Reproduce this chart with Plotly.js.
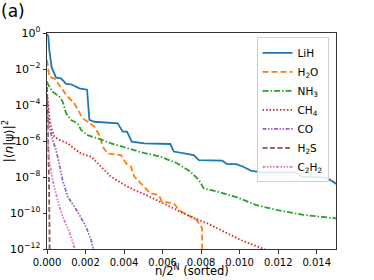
<!DOCTYPE html>
<html>
<head>
<meta charset="utf-8">
<script src="https://cdn.plot.ly/plotly-3.0.1.min.js"></script>
<style>html,body{margin:0;padding:0;background:#fff;}#chart{width:374px;height:280px;}</style>
</head>
<body>
<div id="chart"></div>
<script>
// Series data (x = n/2^N sorted, y = |<n|psi>|^2)
const lihX = [0, 0.00007, 0.00012, 0.00024, 0.00047, 0.00073, 0.00099, 0.00125, 0.00168, 0.00194, 0.00208, 0.0022, 0.00246, 0.00367, 0.00393, 0.00415, 0.0044, 0.00505, 0.0064, 0.00658, 0.00727, 0.00762, 0.00788, 0.0091, 0.00935, 0.00983, 0.01018, 0.01061, 0.01122, 0.01295, 0.01321, 0.01451, 0.01503];
const lihY = [8.9e-1, 6.3e-1, 1.15e-1, 1.26e-2, 3.3e-3, 3.0e-3, 1.48e-3, 1.41e-3, 8.5e-4, 7.4e-4, 7.1e-4, 1.48e-5, 1.17e-5, 9.5e-6, 3.3e-6, 3.3e-6, 9.1e-7, 7.4e-7, 6.8e-7, 2.6e-7, 1.9e-7, 1.66e-7, 8.7e-8, 8.1e-8, 5.2e-8, 5.2e-8, 3.7e-8, 2.2e-8, 1.8e-8, 1.8e-8, 1.05e-8, 9.1e-9, 4.1e-9];

const h2oX = [0, 0.00005, 0.00012, 0.00038, 0.00073, 0.00107, 0.00142, 0.00168, 0.00185, 0.00211, 0.00246, 0.00272, 0.0028, 0.00289, 0.00315, 0.00384, 0.0041, 0.00436, 0.00453, 0.00488, 0.00537, 0.0058, 0.00597, 0.00658, 0.00684, 0.00727, 0.0077, 0.00796, 0.00805, 0.00806];
const h2oY = [3.2e-2, 8.7e-3, 3.7e-3, 3.0e-3, 8.5e-4, 2.9e-4, 1.23e-4, 4.3e-5, 1.82e-5, 1.17e-5, 6.3e-6, 2.1e-6, 1.15e-6, 4.9e-7, 2.0e-7, 1.66e-7, 5.8e-8, 3.7e-8, 1.05e-8, 4.5e-9, 1.23e-9, 1.0e-9, 4.3e-10, 3.5e-10, 1.48e-10, 7.8e-11, 5.0e-11, 2.1e-11, 1.41e-11, 1e-13];

const nh3X = [0, 0.00007, 0.00029, 0.00064, 0.00081, 0.00099, 0.00125, 0.00159, 0.00177, 0.00211, 0.00263, 0.00332, 0.00402, 0.00485, 0.00589, 0.00675, 0.00744, 0.00788, 0.00814, 0.00883, 0.00983, 0.01087, 0.01191, 0.0133, 0.01503];
const nh3Y = [2.0e-3, 1.29e-3, 5.5e-4, 2.9e-4, 1.55e-4, 3.5e-5, 1.48e-5, 9.5e-6, 4.1e-6, 2.1e-6, 1.41e-6, 7.4e-7, 4.5e-7, 2.4e-7, 1.35e-7, 5.8e-8, 2.0e-8, 6.8e-9, 2.3e-9, 1.55e-9, 7.6e-10, 2.75e-10, 1.48e-10, 7.9e-11, 5.0e-11];

const ch4X = [0, 0.00005, 0.00012, 0.00021, 0.00038, 0.00064, 0.00107, 0.0015, 0.00177, 0.00229, 0.0028, 0.00332, 0.00402, 0.00453, 0.00505, 0.00571, 0.00658, 0.00744, 0.00831, 0.00917, 0.01004, 0.01125, 0.0116];
const ch4Y = [6.3e-4, 1.26e-4, 2.2e-5, 6.3e-6, 1.74e-6, 1.15e-6, 7.4e-7, 3.2e-7, 2.0e-7, 1.35e-7, 3.7e-8, 1.05e-8, 3.6e-9, 1.9e-9, 1.12e-9, 5.2e-10, 1.8e-10, 6.3e-11, 2.7e-11, 9.1e-12, 3.2e-12, 1.0e-12, 7e-13];

const coX = [0, 0.00005, 0.00012, 0.00029, 0.00047, 0.00055, 0.00081, 0.00107, 0.00159, 0.00202, 0.00229, 0.00245];
const coY = [2.5e-4, 3.5e-5, 6.3e-6, 1.15e-6, 3.2e-7, 1.35e-7, 6.8e-9, 8.1e-10, 1.17e-10, 1.74e-11, 3.2e-12, 6.3e-13];

const h2sX = [0, 0.00005, 0.0001, 0.00013, 0.00014];
const h2sY = [1e-3, 1e-5, 1e-8, 1e-11, 1e-13];

const c2h2X = [0, 0.00003, 0.00012, 0.00029, 0.00055, 0.00081, 0.00116, 0.00148];
const c2h2Y = [3.2e-5, 1.15e-6, 8.7e-8, 6.8e-9, 5.2e-10, 6.3e-11, 9.1e-12, 7.9e-13];

const names = ['LiH', 'H<sub>2</sub>O', 'NH<sub>3</sub>', 'CH<sub>4</sub>', 'CO', 'H<sub>2</sub>S', 'C<sub>2</sub>H<sub>2</sub>'];
const xTickVals = [0, 0.002, 0.004, 0.006, 0.008, 0.010, 0.012, 0.014];
const xTickText = ['0.000', '0.002', '0.004', '0.006', '0.008', '0.010', '0.012', '0.014'];
const yTickVals = [1, 1e-2, 1e-4, 1e-6, 1e-8, 1e-10, 1e-12];
const yTickText = ['10<sup>0</sup>', '10<sup>−2</sup>', '10<sup>−4</sup>', '10<sup>−6</sup>', '10<sup>−8</sup>', '10<sup>−10</sup>', '10<sup>−12</sup>'];

const colors = ['#1f77b4', '#ff7f0e', '#2ca02c', '#d62728', '#9467bd', '#8c564b', '#e377c2'];
const dashes = ['solid', '6px,3px', '6px,2px,1.5px,2px', '1.5px,2px', '4px,1.5px,1.5px,1.5px,1.5px,1.5px', '5px,2.5px', '3px,1.5px,1.5px,1.5px,1.5px,1.5px,1.5px,1.5px'];
const xs = [lihX, h2oX, nh3X, ch4X, coX, h2sX, c2h2X];
const ys = [lihY, h2oY, nh3Y, ch4Y, coY, h2sY, c2h2Y];

const traces = names.map((n, i) => ({
  x: xs[i], y: ys[i], name: n, mode: 'lines', type: 'scatter',
  line: {color: colors[i], width: 1.8, dash: dashes[i]}
}));

const layout = {
  width: 374, height: 280,
  margin: {l: 47, r: 38, t: 33, b: 31, pad: 0},
  paper_bgcolor: '#fff', plot_bgcolor: '#fff',
  font: {family: 'DejaVu Sans, sans-serif', size: 11, color: '#000'},
  showlegend: true,
  xaxis: {
    range: [0, 0.015], tickvals: xTickVals, ticktext: xTickText,
    showgrid: false, zeroline: false, showline: true, mirror: true,
    linecolor: '#333', linewidth: 1, ticks: 'outside', ticklen: 3.5, tickcolor: '#333',
    tickfont: {size: 10},
    automargin: false
  },
  yaxis: {
    type: 'log', range: [-12, 0], tickvals: yTickVals, ticktext: yTickText,
    showgrid: false, zeroline: false, showline: true, mirror: true,
    linecolor: '#333', linewidth: 1, ticks: 'outside', ticklen: 3.5, tickcolor: '#333',
    tickfont: {size: 11},
    title: {text: '|⟨<i>n</i>|ψ⟩|<sup>2</sup>', standoff: 2, font: {size: 12}},
    automargin: false
  },
  legend: {
    x: 0.725, y: 0.98, xanchor: 'left', yanchor: 'top',
    bgcolor: 'rgba(255,255,255,0.85)', bordercolor: '#d0d0d0', borderwidth: 1,
    font: {size: 10.5}, itemwidth: 30, tracegroupgap: 0
  },
  annotations: [
    {text: '(a)', xref: 'paper', yref: 'paper', x: -0.165, y: 1.10,
     xanchor: 'left', yanchor: 'middle', showarrow: false, font: {size: 17}},
    {text: 'n/2<sup>N</sup> (sorted)', xref: 'paper', yref: 'paper', x: 0.5, y: -0.145,
     xanchor: 'center', yanchor: 'bottom', showarrow: false, font: {size: 11.5}}
  ]
};

Plotly.newPlot('chart', traces, layout, {staticPlot: true, displayModeBar: false});
</script>
</body>
</html>
